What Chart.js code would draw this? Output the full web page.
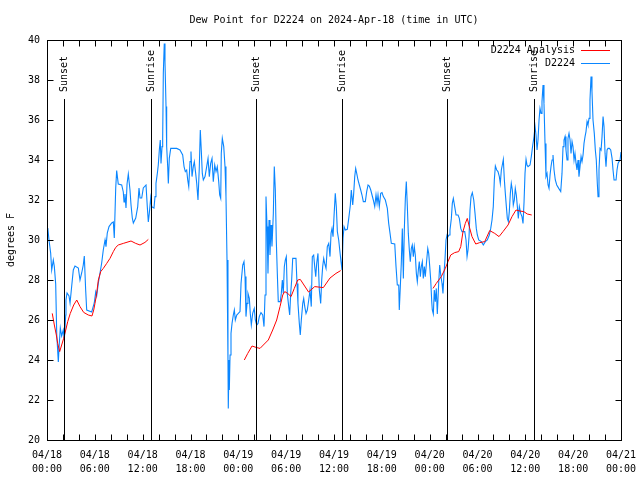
<!DOCTYPE html>
<html>
<head>
<meta charset="utf-8">
<script src="https://cdn.jsdelivr.net/npm/chart.js@4.4.1/dist/chart.umd.min.js"></script>
<style>
  body { margin: 0; background: #fff; }
  canvas { display: block; }
</style>
</head>
<body>
<canvas id="dew-chart" width="640" height="480"></canvas>
<script>
// hours since 04/18 00:00 UTC
const blueHours = [
  0.10, 0.25, 0.46, 0.59, 0.79, 0.92, 1.09, 1.22, 1.42, 1.54,
  1.67, 1.84, 2.04, 2.17, 2.35, 2.38, 2.51, 2.76, 2.89, 3.10,
  3.30, 3.51, 3.93, 4.14, 4.35, 4.55, 4.68, 4.85, 4.98, 5.61,
  5.93, 6.11, 6.23, 6.44, 6.65, 6.86, 7.06, 7.28, 7.40, 7.56,
  7.78, 8.12, 8.32, 8.44, 8.62, 8.74, 8.94, 9.37, 9.57, 9.66,
  9.78, 9.91, 10.04, 10.20, 10.41, 10.54, 10.70, 10.83, 11.13, 11.38,
  11.54, 11.67, 11.88, 12.08, 12.42, 12.58, 12.71, 12.83, 13.01, 13.13,
  13.42, 13.55, 13.67, 13.84, 13.96, 14.09, 14.21, 14.30, 14.43, 14.51,
  14.59, 14.71, 14.80, 14.93, 15.01, 15.14, 15.22, 15.34, 15.52, 16.27,
  16.68, 17.02, 17.19, 17.35, 17.52, 17.65, 17.78, 17.94, 18.06, 18.19,
  18.35, 18.48, 18.65, 18.78, 18.94, 19.10, 19.23, 19.36, 19.48, 19.61,
  19.82, 20.03, 20.20, 20.36, 20.53, 20.70, 20.86, 21.04, 21.20, 21.36,
  21.54, 21.66, 21.79, 21.86, 21.99, 22.17, 22.33, 22.45, 22.58, 22.70,
  22.74, 22.83, 22.87, 22.96, 23.08, 23.21, 23.37, 23.50, 23.62, 23.80,
  24.00, 24.21, 24.34, 24.55, 24.71, 24.84, 24.96, 25.09, 25.21, 25.38,
  25.50, 25.63, 25.80, 26.00, 26.13, 26.30, 26.47, 26.63, 26.84, 27.06,
  27.22, 27.35, 27.47, 27.60, 27.72, 27.85, 27.97, 28.10, 28.22, 28.39,
  28.51, 28.64, 28.76, 28.89, 29.01, 29.26, 29.39, 29.52, 29.64, 29.77,
  29.89, 30.02, 30.14, 30.32, 30.44, 30.57, 30.69, 30.82, 31.23, 31.36,
  31.48, 31.65, 31.77, 31.90, 32.08, 32.20, 32.33, 32.49, 32.65, 32.83,
  32.99, 33.15, 33.28, 33.45, 33.58, 33.71, 33.83, 33.99, 34.16, 34.33,
  34.46, 34.58, 34.71, 34.83, 35.00, 35.16, 35.34, 35.50, 35.63, 35.75,
  35.88, 36.00, 36.16, 36.29, 36.42, 36.59, 36.72, 36.88, 37.01, 37.13,
  37.26, 37.42, 37.67, 37.85, 38.05, 38.17, 38.35, 38.47, 38.60, 38.72,
  38.85, 39.01, 39.18, 39.35, 39.51, 39.68, 39.93, 40.10, 40.27, 40.43,
  40.61, 40.77, 40.93, 41.11, 41.27, 41.40, 41.52, 41.68, 41.86, 42.02,
  42.19, 42.44, 42.69, 42.86, 43.03, 43.19, 43.62, 43.78, 43.94, 44.12,
  44.19, 44.32, 44.44, 44.57, 44.70, 44.82, 44.95, 45.07, 45.20, 45.32,
  45.45, 45.57, 45.70, 45.82, 45.95, 46.07, 46.20, 46.33, 46.45, 46.58,
  46.70, 46.83, 46.95, 47.08, 47.20, 47.33, 47.45, 47.63, 47.76, 47.88,
  48.01, 48.13, 48.26, 48.33, 48.46, 48.58, 48.71, 48.83, 48.96, 49.13,
  49.26, 49.39, 49.55, 49.67, 49.80, 49.93, 50.05, 50.18, 50.30, 50.43,
  50.55, 50.72, 50.84, 50.97, 51.14, 51.31, 51.56, 51.72, 51.90, 52.06,
  52.40, 52.56, 52.69, 52.81, 52.94, 53.06, 53.19, 53.35, 53.53, 53.69,
  53.85, 53.98, 54.15, 54.48, 54.73, 54.98, 55.23, 55.48, 55.66, 55.82,
  55.98, 56.11, 56.24, 56.41, 56.57, 56.74, 56.86, 56.99, 57.11, 57.24,
  57.37, 57.49, 57.62, 57.74, 57.87, 57.99, 58.12, 58.24, 58.37, 58.49,
  58.62, 58.74, 58.87, 59.00, 59.12, 59.25, 59.42, 59.58, 59.71, 59.84,
  59.96, 60.09, 60.21, 60.34, 60.59, 60.75, 60.93, 61.09, 61.22, 61.34,
  61.47, 61.59, 61.72, 61.84, 61.97, 62.09, 62.22, 62.34, 62.47, 62.59,
  62.72, 62.85, 62.97, 63.10, 63.22, 63.35, 63.47, 63.60, 63.76, 63.94,
  64.19, 64.44, 64.60, 64.73, 64.85, 64.98, 65.10, 65.23, 65.35, 65.48,
  65.61, 65.73, 65.86, 65.98, 66.11, 66.23, 66.36, 66.48, 66.61, 66.73,
  66.86, 66.99, 67.11, 67.24, 67.36, 67.49, 67.61, 67.74, 67.86, 67.99,
  68.11, 68.24, 68.36, 68.49, 68.65, 68.78, 68.90, 69.03, 69.12, 69.24,
  69.37, 69.50, 69.62, 69.75, 69.87, 70.00, 70.12, 70.25, 70.37, 70.54,
  70.71, 70.88, 71.00, 71.13, 71.38, 71.50, 71.63, 71.75, 71.88, 72.00
];
const blueValues = [
  30.6, 30.0, 29.35, 28.5, 29.0, 28.67, 27.8, 25.3, 23.9, 24.8,
  25.6, 25.2, 25.5, 25.0, 26.25, 27.0, 27.35, 27.2, 26.85, 27.7,
  28.5, 28.7, 28.6, 28.0, 28.35, 28.75, 29.2, 27.5, 26.5, 26.4,
  26.85, 27.4, 27.2, 27.85, 28.35, 28.85, 29.5, 30.0, 29.67, 30.35,
  30.67, 30.85, 30.9, 30.1, 32.6, 33.47, 32.8, 32.75, 32.4, 31.9,
  32.3, 31.6, 32.8, 33.3, 32.5, 31.75, 31.1, 30.85, 31.1, 31.67,
  32.6, 32.1, 32.1, 32.6, 32.75, 31.67, 30.9, 31.33, 32.1, 31.67,
  31.6, 32.17, 32.83, 33.33, 33.75, 34.5, 35.0, 33.83, 34.67, 35.08,
  38.33, 39.83, 38.9, 36.67, 34.67, 33.67, 32.83, 34.08, 34.58, 34.58,
  34.5, 34.25, 33.67, 33.42, 33.5, 33.0, 32.67, 33.92, 34.42, 33.17,
  33.67, 33.92, 33.33, 32.83, 32.0, 33.58, 35.5, 34.42, 33.33, 33.0,
  33.17, 33.67, 34.08, 33.17, 33.83, 34.08, 32.92, 33.75, 33.42, 33.67,
  32.92, 32.25, 32.08, 34.33, 35.08, 34.67, 33.67, 32.17, 29.0, 24.0,
  21.58, 24.0, 22.5, 24.25, 25.33, 25.83, 26.25, 26.5, 26.0, 26.25,
  26.33, 26.42, 27.83, 28.75, 28.92, 28.17, 26.17, 26.83, 27.33, 27.08,
  26.33, 25.75, 26.33, 26.58, 26.0, 25.75, 25.83, 26.17, 26.37, 26.25,
  25.67, 27.25, 32.17, 30.67, 28.33, 31.0, 29.25, 30.75, 29.67, 31.33,
  33.67, 32.5, 30.0, 28.33, 26.92, 26.92, 27.33, 28.0, 27.33, 28.67,
  29.0, 29.17, 27.33, 26.67, 26.25, 27.33, 28.0, 29.08, 29.08, 27.83,
  26.83, 25.83, 25.25, 26.0, 26.83, 27.08, 26.67, 26.33, 26.5, 27.0,
  27.5, 26.67, 29.17, 29.25, 28.67, 28.17, 28.83, 29.33, 27.5, 26.83,
  28.0, 28.67, 29.08, 28.83, 28.58, 29.67, 29.83, 29.17, 30.33, 30.58,
  30.17, 31.17, 32.33, 31.67, 30.42, 30.0, 29.5, 28.92, 28.5, 30.08,
  30.67, 30.5, 30.53, 31.08, 31.75, 32.5, 31.75, 32.33, 33.17, 33.58,
  33.33, 33.0, 32.75, 32.5, 32.25, 31.92, 31.92, 32.42, 32.75, 32.7,
  32.5, 32.25, 32.0, 31.67, 32.25, 31.83, 32.25, 31.67, 32.33, 32.37,
  32.17, 32.0, 31.58, 30.83, 30.33, 29.83, 29.8, 28.67, 27.75, 27.75,
  26.5, 27.67, 28.83, 30.58, 28.08, 30.5, 32.08, 32.92, 31.67, 30.33,
  29.5, 28.92, 29.58, 29.75, 29.17, 29.67, 29.25, 28.33, 27.92, 28.5,
  28.92, 28.17, 28.67, 28.92, 28.08, 28.67, 28.17, 29.0, 29.58, 29.33,
  28.67, 28.0, 26.92, 26.5, 26.3, 27.5, 26.92, 27.58, 26.3, 27.83,
  28.75, 28.25, 27.83, 27.33, 28.33, 29.08, 30.0, 30.25, 30.17, 30.25,
  30.5, 31.08, 31.83, 32.08, 31.67, 31.25, 31.25, 31.08, 30.58, 30.42,
  30.42, 30.0, 29.17, 29.5, 30.17, 31.5, 32.17, 32.37, 32.0, 31.33,
  30.58, 30.25, 30.0, 29.92, 29.75, 29.92, 30.0, 30.25, 30.58, 31.0,
  31.67, 33.0, 33.7, 33.5, 33.42, 33.17, 32.83, 33.5, 33.75, 34.03,
  33.0, 32.33, 31.67, 31.08, 30.92, 31.42, 32.33, 32.83, 32.5, 31.75,
  32.0, 32.58, 32.25, 31.67, 31.08, 31.67, 31.33, 31.17, 30.83, 31.92,
  33.33, 34.03, 33.75, 33.67, 33.75, 34.17, 34.75, 35.17, 35.67, 35.25,
  34.5, 35.0, 36.0, 36.58, 36.33, 36.92, 37.75, 36.83, 34.83, 33.17,
  33.33, 32.75, 32.58, 33.25, 33.67, 34.0, 34.25, 33.5, 33.0, 32.75,
  32.58, 32.42, 33.33, 34.67, 35.0, 35.17, 34.5, 34.0, 35.08, 35.33,
  35.0, 34.33, 34.92, 34.67, 34.0, 34.33, 33.83, 33.5, 34.0, 33.17,
  33.67, 34.17, 33.92, 34.25, 34.83, 35.17, 35.42, 35.92, 35.75, 36.08,
  37.0, 38.17, 37.42, 36.0, 35.33, 34.5, 34.0, 32.83, 32.17, 33.5,
  34.58, 34.5, 35.17, 36.17, 35.67, 34.33, 33.67, 34.5, 34.58, 34.58,
  34.5, 34.08, 33.5, 33.0, 33.0, 33.5, 33.83, 33.92, 34.0, 34.4
];

// analysis series, null marks a gap
const redHours = [
  0.66, 0.92, 1.17, 1.34, 1.59, 1.84, 2.09, 2.35, 2.60, 2.92,
  3.35, 3.73, 4.14, 4.60, 5.18, 5.64, 5.86, 6.02, 6.23, 6.44,
  6.74, 7.06, 7.49, 7.90, 8.32, 8.62, 8.94, 9.57, 10.54, 11.13,
  11.67, 12.29, 12.71, 18.00,
  24.75, 25.18, 25.72, 26.22, 26.72, 27.26, 27.76, 28.31, 28.81, 29.23,
  29.57, 29.82, 30.19, 30.61, 31.02, 31.45, 31.77, 32.81, 33.58, 34.66,
  35.50, 36.25, 36.84, 42.00,
  48.42, 48.83, 49.46, 49.96, 50.30, 50.64, 51.14, 51.64, 51.90, 52.18,
  52.47, 52.72, 53.03, 53.31, 53.78, 54.28, 54.91, 55.53, 56.16, 56.70,
  57.20, 57.83, 58.33, 58.83, 59.30, 59.80, 60.25, 60.80
];
const redValues = [
  26.33, 25.75, 25.25, 24.83, 24.42, 24.75, 25.08, 25.5, 25.92, 26.33,
  26.75, 27.0, 26.67, 26.38, 26.25, 26.2, 26.5, 26.83, 27.33, 28.0,
  28.42, 28.58, 28.83, 29.08, 29.42, 29.63, 29.75, 29.83, 29.95, 29.83,
  29.75, 29.88, 30.03, null,
  24.0, 24.33, 24.7, 24.63, 24.58, 24.8, 25.0, 25.5, 26.0, 26.67,
  27.25, 27.42, 27.33, 27.17, 27.58, 28.0, 28.03, 27.4, 27.67, 27.62,
  28.1, 28.33, 28.47, null,
  27.58, 27.83, 28.17, 28.58, 28.92, 29.25, 29.37, 29.42, 29.67, 30.42,
  30.83, 31.08, 30.58, 30.17, 29.8, 29.87, 29.92, 30.47, 30.33, 30.17,
  30.42, 30.75, 31.17, 31.5, 31.45, 31.42, 31.3, 31.25
];

const sunsetHours = [2.17, 26.2, 50.2];
const sunriseHours = [13.1, 37.05, 61.1];
const sunLineTop = 37.05;

const xTickDates = ['04/18', '04/18', '04/18', '04/18', '04/19', '04/19', '04/19', '04/19', '04/20', '04/20', '04/20', '04/20', '04/21'];
const xTickTimes = ['00:00', '06:00', '12:00', '18:00', '00:00', '06:00', '12:00', '18:00', '00:00', '06:00', '12:00', '18:00', '00:00'];

const monoFont = '"DejaVu Sans Mono", "Liberation Mono", monospace';

function toPoints(hours, values) {
    return hours.map((h, i) => ({ x: h, y: values[i] }));
}

const gnuplotLook = {
    id: 'gnuplotLook',
    afterDatasetsDraw(chart) {
        const ctx = chart.ctx;
        const area = chart.chartArea;
        const xs = chart.scales.x;
        const ys = chart.scales.y;
        ctx.save();
        ctx.lineWidth = 1;
        ctx.strokeStyle = '#000';
        ctx.fillStyle = '#000';
        ctx.font = '10px ' + monoFont;

        // sunrise / sunset markers
        const lineTop = ys.getPixelForValue(sunLineTop);
        function sunLine(h, text) {
            const px = Math.round(xs.getPixelForValue(h)) + 0.5;
            ctx.beginPath();
            ctx.moveTo(px, area.bottom);
            ctx.lineTo(px, lineTop);
            ctx.stroke();
            ctx.save();
            ctx.translate(px, lineTop - 7);
            ctx.rotate(-Math.PI / 2);
            ctx.textAlign = 'left';
            ctx.textBaseline = 'middle';
            ctx.fillText(text, 0, 0);
            ctx.restore();
        }
        sunsetHours.forEach(h => sunLine(h, 'Sunset'));
        sunriseHours.forEach(h => sunLine(h, 'Sunrise'));

        // border and inward ticks
        const l = Math.round(area.left) + 0.5;
        const r = Math.round(area.right) + 0.5;
        const t = Math.round(area.top) + 0.5;
        const b = Math.round(area.bottom) + 0.5;
        ctx.strokeRect(l, t, r - l, b - t);
        ctx.beginPath();
        xs.ticks.forEach(tk => {
            const px = Math.round(xs.getPixelForValue(tk.value)) + 0.5;
            ctx.moveTo(px, b); ctx.lineTo(px, b - 6);
            ctx.moveTo(px, t); ctx.lineTo(px, t + 6);
        });
        ys.ticks.forEach(tk => {
            const py = Math.round(ys.getPixelForValue(tk.value)) + 0.5;
            ctx.moveTo(l, py); ctx.lineTo(l + 6, py);
            ctx.moveTo(r, py); ctx.lineTo(r - 6, py);
        });
        ctx.stroke();

        // legend, top right inside the plot
        ctx.textAlign = 'right';
        ctx.textBaseline = 'middle';
        chart.data.datasets.forEach((ds, i) => {
            const ly = Math.round(area.top + 10 + i * 12.5);
            ctx.fillText(ds.label, area.right - 46, ly);
            ctx.strokeStyle = ds.borderColor;
            ctx.beginPath();
            ctx.moveTo(area.right - 40, ly + 0.5);
            ctx.lineTo(area.right - 11, ly + 0.5);
            ctx.stroke();
        });

        // title and y axis label
        ctx.textAlign = 'center';
        ctx.fillText('Dew Point for D2224 on 2024-Apr-18 (time in UTC)', (area.left + area.right) / 2, 20);
        ctx.save();
        ctx.translate(11, (area.top + area.bottom) / 2);
        ctx.rotate(-Math.PI / 2);
        ctx.fillText('degrees F', 0, 0);
        ctx.restore();

        ctx.restore();
    }
};

const dewChart = new Chart(document.getElementById('dew-chart'), {
    type: 'line',
    data: {
        datasets: [{
            label: 'D2224 Analysis',
            data: toPoints(redHours, redValues),
            borderColor: '#ff0000',
            borderWidth: 1,
            pointRadius: 0,
            spanGaps: false,
            tension: 0
        }, {
            label: 'D2224',
            data: toPoints(blueHours, blueValues),
            borderColor: '#0a86ff',
            borderWidth: 1.1,
            pointRadius: 0,
            tension: 0
        }]
    },
    options: {
        responsive: false,
        animation: false,
        devicePixelRatio: 1,
        layout: {
            padding: { left: 0, right: 19, top: 40, bottom: 0 }
        },
        scales: {
            x: {
                type: 'linear',
                min: 0,
                max: 72,
                grid: { display: false, drawTicks: false },
                border: { display: false },
                afterFit: function(scale) {
                    scale.height = 40;
                    // labels may spill past the plot edge, as in gnuplot
                    scale.paddingLeft = 0;
                    scale.paddingRight = 0;
                },
                ticks: {
                    stepSize: 2,
                    autoSkip: false,
                    maxRotation: 0,
                    padding: 8,
                    color: '#000',
                    font: { family: monoFont, size: 10, lineHeight: 1.4 },
                    callback: function(value) {
                        if (value % 6 !== 0) return '';
                        const i = value / 6;
                        return [xTickDates[i], xTickTimes[i]];
                    }
                }
            },
            y: {
                min: 20,
                max: 40,
                grid: { display: false, drawTicks: false },
                border: { display: false },
                afterFit: function(scale) {
                    scale.width = 47;
                    scale.paddingTop = 0;
                    scale.paddingBottom = 0;
                },
                ticks: {
                    stepSize: 2,
                    padding: 7,
                    color: '#000',
                    font: { family: monoFont, size: 10 }
                }
            }
        },
        plugins: {
            legend: { display: false },
            tooltip: { enabled: false }
        }
    },
    plugins: [gnuplotLook]
});
</script>
</body>
</html>
